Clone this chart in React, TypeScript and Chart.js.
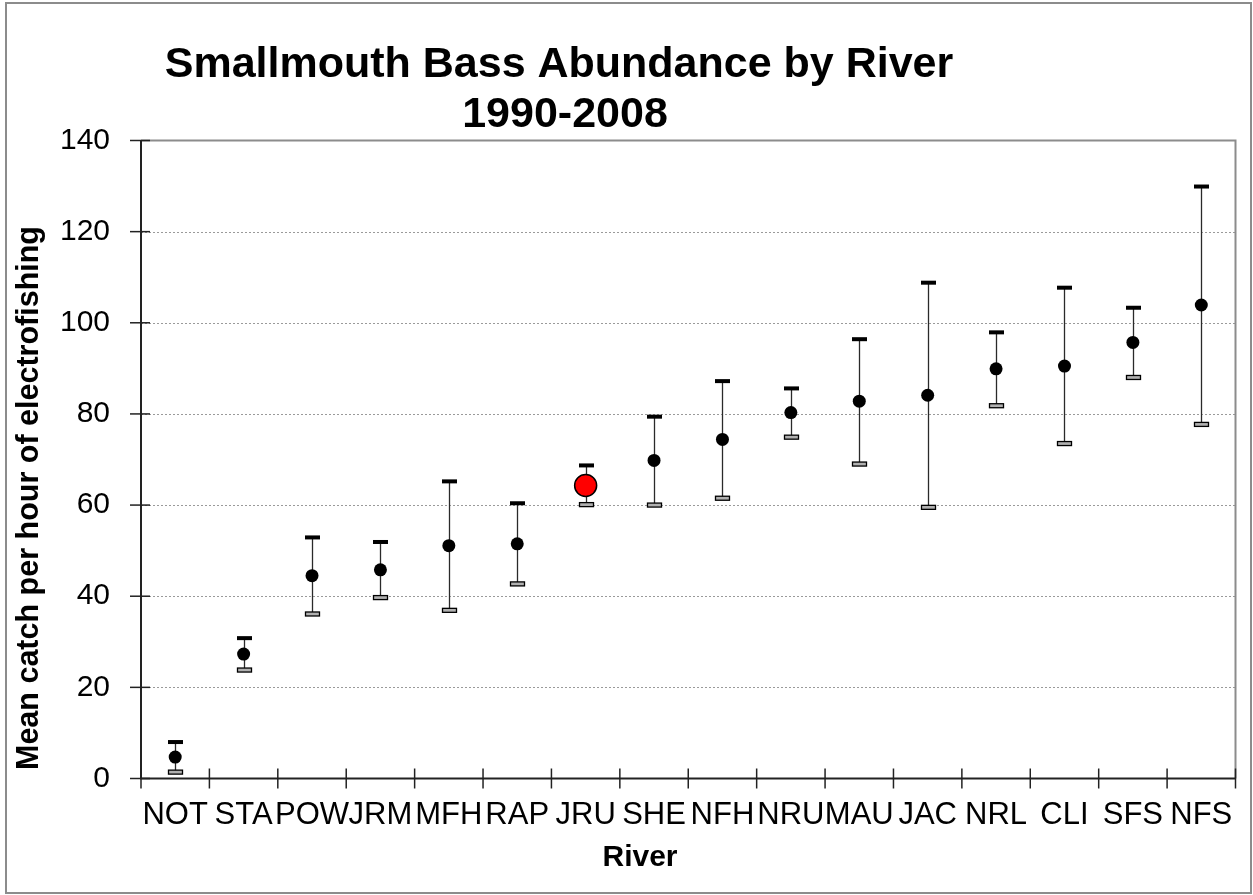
import React, { useEffect, useRef } from 'react';
import { Chart, registerables } from 'chart.js';

Chart.register(...registerables);

// River codes, in order of increasing mean catch
const rivers = ['NOT', 'STA', 'POW', 'JRM', 'MFH', 'RAP', 'JRU', 'SHE', 'NFH', 'NRU', 'MAU', 'JAC', 'NRL', 'CLI', 'SFS', 'NFS'];
// Mean catch per hour of electrofishing
const meanCatch = [4.7, 27.3, 44.5, 45.8, 51.1, 51.5, 64.3, 69.8, 74.4, 80.3, 82.8, 84.1, 89.9, 90.5, 95.7, 103.9];
// Upper and lower error-bar limits
const upperLimit = [8.0, 30.8, 52.9, 51.9, 65.2, 60.4, 68.7, 79.4, 87.2, 85.6, 96.4, 108.8, 97.9, 107.7, 103.3, 129.9];
const lowerLimit = [1.4, 23.8, 36.1, 39.7, 36.9, 42.7, 60.1, 60.0, 61.5, 74.9, 69.0, 59.5, 81.8, 73.5, 88.0, 77.7];
const highlightedRiver = 'JRU';
const yMin = 0;
const yMax = 140;
const yStep = 20;

const titleLines = ['Smallmouth Bass Abundance by River', '1990-2008'];
const xAxisTitle = 'River';
const yAxisTitle = 'Mean catch per hour of electrofishing';

const FONT = '"Liberation Sans", Arial, Helvetica, sans-serif';

const decorPlugin = {
  id: 'decor',
  beforeDraw(chart: any) {
    const { ctx, width, height } = chart;
    ctx.save();
    ctx.fillStyle = '#ffffff';
    ctx.fillRect(0, 0, width, height);
    ctx.strokeStyle = '#8c8c8c';
    ctx.lineWidth = 2;
    ctx.strokeRect(6, 3, width - 8, height - 5);
    ctx.restore();
  },
  beforeDatasetsDraw(chart: any) {
    const { ctx, chartArea: a, scales } = chart;
    const x = scales.x;
    const y = scales.y;
    ctx.save();

    // dotted horizontal gridlines
    ctx.strokeStyle = '#9a9a9a';
    ctx.lineWidth = 1;
    ctx.setLineDash([2, 2]);
    y.ticks.forEach((t: any) => {
      if (t.value <= y.min || t.value >= y.max) return;
      const py = Math.round(y.getPixelForValue(t.value)) + 0.5;
      ctx.beginPath();
      ctx.moveTo(a.left, py);
      ctx.lineTo(a.right, py);
      ctx.stroke();
    });
    ctx.setLineDash([]);

    // plot frame (top and right)
    ctx.strokeStyle = '#8c8c8c';
    ctx.lineWidth = 2;
    ctx.beginPath();
    ctx.moveTo(a.left, a.top);
    ctx.lineTo(a.right, a.top);
    ctx.lineTo(a.right, a.bottom);
    ctx.stroke();

    // axes
    ctx.strokeStyle = '#222222';
    ctx.lineWidth = 2;
    ctx.beginPath();
    ctx.moveTo(a.left, a.top);
    ctx.lineTo(a.left, a.bottom);
    ctx.lineTo(a.right, a.bottom);
    ctx.stroke();

    // cross tick marks
    ctx.lineWidth = 1.5;
    y.ticks.forEach((t: any) => {
      const py = y.getPixelForValue(t.value);
      ctx.beginPath();
      ctx.moveTo(a.left - 11, py);
      ctx.lineTo(a.left + 9, py);
      ctx.stroke();
    });
    const half = (x.getPixelForValue(1) - x.getPixelForValue(0)) / 2;
    for (let i = 0; i <= rivers.length; i++) {
      const px = x.getPixelForValue(i) - half;
      ctx.beginPath();
      ctx.moveTo(px, a.bottom - 10);
      ctx.lineTo(px, a.bottom + 10);
      ctx.stroke();
    }

    // error bars
    rivers.forEach((_, i) => {
      const px = Math.round(x.getPixelForValue(i)) + 0.5;
      const hi = y.getPixelForValue(upperLimit[i]);
      const lo = y.getPixelForValue(lowerLimit[i]);
      ctx.strokeStyle = '#2a2a2a';
      ctx.lineWidth = 1.3;
      ctx.beginPath();
      ctx.moveTo(px, hi);
      ctx.lineTo(px, lo);
      ctx.stroke();
      ctx.fillStyle = '#000000';
      ctx.fillRect(px - 7.5, hi - 2, 15, 4);
      ctx.fillStyle = '#b0b0b0';
      ctx.fillRect(px - 7, lo - 2, 14, 4);
      ctx.strokeStyle = '#000000';
      ctx.lineWidth = 1.3;
      ctx.strokeRect(px - 7, lo - 2, 14, 4);
    });
    ctx.restore();
  },
  afterDraw(chart: any) {
    const { ctx } = chart;
    ctx.save();
    ctx.fillStyle = '#000000';
    ctx.textBaseline = 'alphabetic';
    ctx.textAlign = 'center';
    ctx.font = `bold 43px ${FONT}`;
    ctx.fillText(titleLines[0], 559, 77);
    ctx.fillText(titleLines[1], 565, 127);

    ctx.font = `bold 30px ${FONT}`;
    ctx.fillText(xAxisTitle, 640, 866);

    ctx.translate(38, 498);
    ctx.rotate(-Math.PI / 2);
    ctx.font = `bold 30.5px ${FONT}`;
    ctx.fillText(yAxisTitle, 0, 0);
    ctx.restore();
  },
};

export default function App() {
  const canvasRef = useRef<HTMLCanvasElement | null>(null);

  useEffect(() => {
    document.body.style.margin = '0';
    const canvas = canvasRef.current;
    if (!canvas) return;
    const chart = new Chart(canvas, {
      type: 'line',
      data: {
        labels: rivers,
        datasets: [
          {
            data: meanCatch,
            showLine: false,
            pointRadius: rivers.map((r) => (r === highlightedRiver ? 11 : 6.5)),
            pointBackgroundColor: rivers.map((r) => (r === highlightedRiver ? '#ff0000' : '#000000')),
            pointBorderColor: '#000000',
            pointBorderWidth: rivers.map((r) => (r === highlightedRiver ? 1.5 : 0)),
            pointHoverRadius: rivers.map((r) => (r === highlightedRiver ? 11 : 6.5)),
          },
        ],
      },
      options: {
        responsive: false,
        animation: false,
        events: [],
        layout: { padding: { left: 0, right: 17.5, top: 140.5, bottom: 0 } },
        plugins: {
          legend: { display: false },
          tooltip: { enabled: false },
          title: { display: false },
        },
        scales: {
          x: {
            type: 'category',
            offset: true,
            grid: { display: false, drawTicks: false },
            border: { display: false },
            ticks: {
              autoSkip: false,
              maxRotation: 0,
              minRotation: 0,
              padding: 18,
              color: '#000000',
              font: { family: FONT, size: 31 },
            },
            afterFit: (s: any) => {
              s.height = 116.5;
            },
          },
          y: {
            min: yMin,
            max: yMax,
            grid: { display: false, drawTicks: false },
            border: { display: false },
            ticks: {
              stepSize: yStep,
              padding: 31,
              color: '#000000',
              font: { family: FONT, size: 30 },
            },
            afterFit: (s: any) => {
              s.width = 141;
            },
          },
        },
      },
      plugins: [decorPlugin],
    });
    return () => chart.destroy();
  }, []);

  return (
    <div style={{ width: 1253, height: 895 }}>
      <canvas ref={canvasRef} width={1253} height={895} style={{ display: 'block' }} />
    </div>
  );
}
